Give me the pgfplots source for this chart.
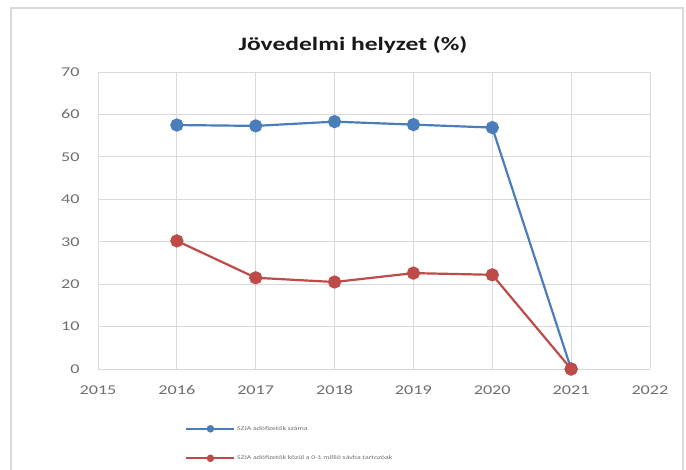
\documentclass[border=0pt]{standalone}
\usepackage{fontspec}
\setmainfont[FakeStretch=1.35]{Carlito}
\usepackage{pgfplots}
\pgfplotsset{compat=1.18}
\definecolor{xblue}{HTML}{4A7EBB}
\definecolor{xred}{HTML}{BE4B48}
\definecolor{gridc}{HTML}{D9D9D9}
\definecolor{tickc}{HTML}{6E6E6E}
\begin{document}
\begin{tikzpicture}
\path[use as bounding box] (0bp,0bp) rectangle (686bp,470bp);
\draw[gridc,line width=1.2bp] (11bp,0bp) -- (11bp,462bp) -- (683bp,462bp) -- (683bp,0bp);
\node[font=\bfseries\fontsize{19}{22}\selectfont, text=black!90] at (353bp,425bp) {Jövedelmi helyzet (\%)};
\begin{axis}[
  at={(98bp,101bp)}, anchor=south west,
  scale only axis, width=552bp, height=297bp,
  xmin=2015, xmax=2022, ymin=0, ymax=70,
  xtick={2015,...,2022}, ytick={0,10,...,70},
  /pgf/number format/assume math mode=true,
  xticklabel={\pgfmathprintnumber[1000 sep={}]{\tick}},
  yticklabel={\pgfmathprintnumber{\tick}},
  ticklabel style={font=\fontsize{13.5}{15}\selectfont, text=tickc},
  xticklabel style={yshift=-13bp},
  yticklabel style={xshift=-15bp},
  major tick length=0pt,
  grid=major, grid style={gridc, line width=0.8bp},
  axis line style={gridc, line width=0.9bp},
  axis x line*=bottom, axis y line*=left,
  legend style={draw=none, fill=none, at={(0.153,-0.178)}, anchor=north west,
    font=\fontsize{5.8}{7}\selectfont, text=tickc, row sep=20bp, legend cell align=left},
  legend image code/.code={
    \draw[#1, mark=none, line width=1.6bp] (0bp,0bp) -- (48bp,0bp);
    \draw[#1, mark repeat=1, mark size=2.6bp] plot coordinates {(24bp,0bp)};
  },
]
\addplot[xblue, line width=2.2bp, mark=*, mark size=5.5bp, mark options={fill=xblue, draw=xblue}]
  coordinates {(2016,57.5) (2017,57.3) (2018,58.3) (2019,57.6) (2020,56.9) (2021,0)};
\addlegendentry{SZJA adófizetők száma}
\addplot[xred, line width=2.2bp, mark=*, mark size=5.5bp, mark options={fill=xred, draw=xred}]
  coordinates {(2016,30.2) (2017,21.5) (2018,20.5) (2019,22.6) (2020,22.2) (2021,0)};
\addlegendentry{SZJA adófizetők közül a 0-1 millió sávba tartozóak}
\end{axis}
\end{tikzpicture}
\end{document}
